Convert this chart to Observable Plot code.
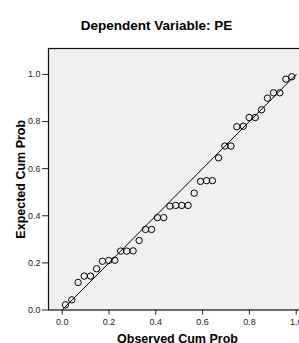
<!DOCTYPE html>
<html>
<head>
<meta charset="utf-8">
<script src="https://cdn.jsdelivr.net/npm/d3@7"></script>
<script src="https://cdn.jsdelivr.net/npm/@observablehq/plot@0.6"></script>
<style>
  html, body { margin: 0; padding: 0; background: #fff; overflow: hidden; }
  #wrap { position: relative; width: 299px; height: 343px; overflow: hidden; font-family: "Liberation Sans", Arial, sans-serif; }
  #title { position: absolute; left: 7px; top: 18px; width: 299px; text-align: center; font-size: 13.5px; line-height: 16px; font-weight: bold; color: #000; z-index: 2; }
  #chart { position: absolute; left: 0; top: 0; }
  #chart svg { max-width: none !important; }
</style>
</head>
<body>
<div id="wrap">
  <div id="title">Dependent Variable: PE</div>
  <div id="chart"></div>
</div>
<script>
const observedCumProb = [0.014,0.041,0.068,0.094,0.121,0.147,0.172,0.199,0.225,0.250,0.276,0.303,0.329,0.356,0.382,0.407,0.434,0.460,0.485,0.511,0.538,0.564,0.591,0.617,0.642,0.668,0.695,0.721,0.746,0.774,0.799,0.825,0.852,0.877,0.903,0.930,0.956,0.981];
const expectedCumProb = [0.022,0.043,0.117,0.144,0.144,0.175,0.207,0.210,0.211,0.250,0.250,0.251,0.295,0.342,0.342,0.392,0.392,0.441,0.444,0.444,0.444,0.496,0.546,0.549,0.549,0.646,0.696,0.696,0.778,0.780,0.817,0.817,0.850,0.899,0.922,0.922,0.980,0.990];
const tickValues = [0, 0.2, 0.4, 0.6, 0.8, 1.0];
const referenceLine = [0, 1];
const xLabel = "Observed Cum Prob";
const yLabel = "Expected Cum Prob";

const points = observedCumProb.map((o, i) => ({observed: o, expected: expectedCumProb[i]}));
const diag = referenceLine.map(v => ({observed: v, expected: v}));
const font = '"Liberation Sans", Arial, sans-serif';

const chart = Plot.plot({
  width: 306,
  height: 343,
  marginTop: 48,
  marginBottom: 33.5,
  marginLeft: 48,
  marginRight: 0,
  style: {fontFamily: font, background: "transparent", maxWidth: "none"},
  x: {domain: [-0.0585, 1.044]},
  y: {domain: [0, 1.110]},
  marks: [
    Plot.frame({fill: "#f0f0f0", stroke: "none"}),
    Plot.line(diag, {x: "observed", y: "expected", stroke: "#000", strokeWidth: 1}),
    Plot.dot(points, {x: "observed", y: "expected", r: 3.2, stroke: "#000", strokeWidth: 1, fill: "none"}),
    Plot.frame({stroke: "#111", strokeWidth: 1.2}),
    Plot.axisX({ticks: tickValues, tickFormat: d3.format(".1f"), tickSize: 5, tickPadding: 4, fontSize: 9, color: "#222", label: null}),
    Plot.axisY({ticks: tickValues, tickFormat: d3.format(".1f"), tickSize: 6, tickPadding: 2, fontSize: 9, color: "#222", label: null}),
    Plot.text([xLabel], {frameAnchor: "bottom", textAnchor: "middle", lineAnchor: "middle", dy: 28.5, fontSize: 12.5, fontWeight: "bold", fill: "#000"}),
    Plot.text([yLabel], {frameAnchor: "left", textAnchor: "middle", lineAnchor: "middle", rotate: -90, dx: -28, fontSize: 12.5, fontWeight: "bold", fill: "#000"})
  ]
});
document.getElementById("chart").appendChild(chart);
</script>
</body>
</html>
